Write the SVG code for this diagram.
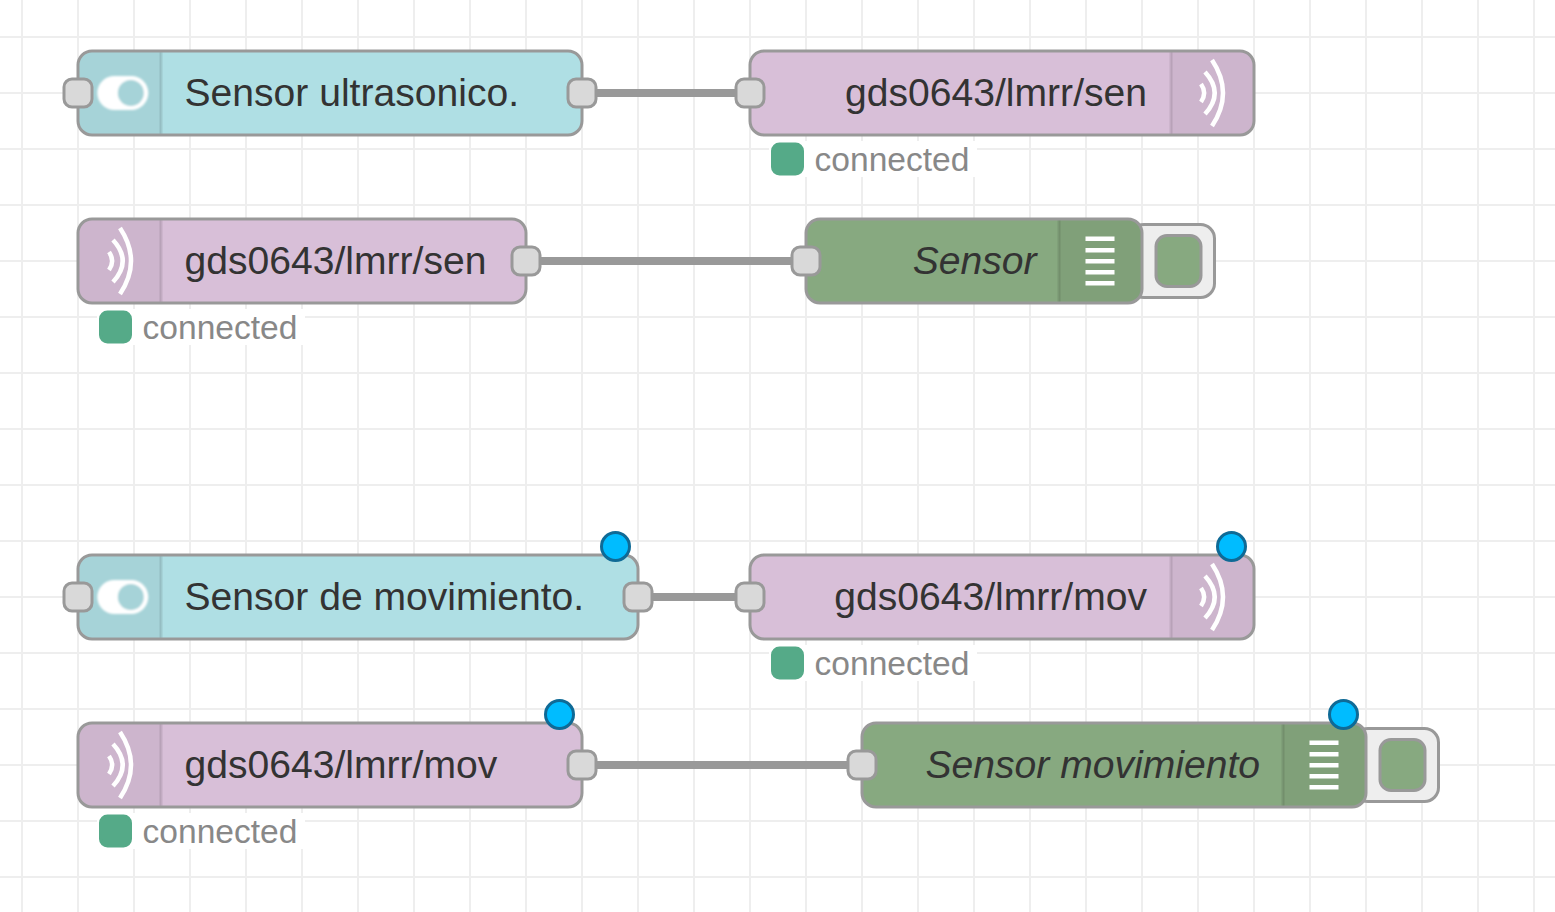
<svg xmlns="http://www.w3.org/2000/svg" width="1555" height="912" viewBox="0 0 1555 912">
<style>
text{font-family:"Liberation Sans",Arial,sans-serif}
.g{stroke:#eee;stroke-width:2;fill:none}
.w{stroke:#999;stroke-width:8;fill:none}
.n{stroke:#999;stroke-width:3}
.inj{fill:#afdfe4}.mq{fill:#d8bfd8}.dbg{fill:#87a980}
.ic{fill:#000;fill-opacity:.05}
.d{stroke:#000;stroke-opacity:.1;stroke-width:3}
.p{fill:#d9d9d9;stroke:#999;stroke-width:3}
.l{font-size:39.1px;fill:#333}
.s{font-size:33.6px;fill:#888}
.sd{fill:#5a8;stroke:#5a8;stroke-width:3}
.h{fill:#fff}
.c{fill:#00bcff;stroke:#0f6a96;stroke-width:3}
.a{fill:none;stroke:#fff;stroke-width:4.500}
.b{fill:#fff}
</style>
<defs>
<filter id="soft" x="-10%" y="-10%" width="120%" height="120%"><feGaussianBlur stdDeviation="0.9"/></filter>
<g id="wifi" class="a"><path d="M-8-9Q-1.700 0-8 9"/><path d="M-4-21Q15.400 0-4 21"/><path d="M3-33Q25 0 3 33"/></g>
<g id="tog" filter="url(#soft)"><rect x="-25.500" y="-17" width="51" height="34" rx="17" fill="#fff"/><circle cx="8" cy="0" r="13" fill="#a6d3d8"/></g>
<g id="lines"><rect x="-14.500" y="-24.500" width="29" height="4.500" class="b"/><rect x="-14.500" y="-13" width="29" height="4.500" class="b"/><rect x="-14.500" y="-2" width="29" height="4.500" class="b"/><rect x="-14.500" y="9" width="29" height="4.500" class="b"/><rect x="-14.500" y="20" width="29" height="4.500" class="b"/></g>
</defs>
<rect width="1555" height="912" fill="#fff"/>
<g id="grid">
<path class="g" d="M22 0V912M78 0V912M134 0V912M190 0V912M246 0V912M302 0V912M358 0V912M414 0V912M470 0V912M526 0V912M582 0V912M638 0V912M694 0V912M750 0V912M806 0V912M862 0V912M918 0V912M974 0V912M1030 0V912M1086 0V912M1142 0V912M1198 0V912M1254 0V912M1310 0V912M1366 0V912M1422 0V912M1478 0V912M1534 0V912"/>
<path class="g" d="M0 37H1555M0 93H1555M0 149H1555M0 205H1555M0 261H1555M0 317H1555M0 373H1555M0 429H1555M0 485H1555M0 541H1555M0 597H1555M0 653H1555M0 709H1555M0 765H1555M0 821H1555M0 877H1555"/>
</g>
<g id="connectors">
<path class="w" d="M582 93H750"/>
<path class="w" d="M526 261H806"/>
<path class="w" d="M638 597H750"/>
<path class="w" d="M582 765H862"/>
</g>
<g id="n1">
<rect class="n inj" x="78" y="51" width="504" height="84" rx="14"/>
<path class="ic" d="M92 52.500H161V133.500H92A12.500 12.500 0 0 1 79.500 121V65A12.500 12.500 0 0 1 92 52.500Z"/>
<path class="d" d="M161 52.500V133.500"/>
<use href="#tog" x="122.800" y="93"/>
<rect class="p" x="64" y="79" width="28" height="28" rx="8"/>
<rect class="p" x="568" y="79" width="28" height="28" rx="8"/>
<text class="l" x="184.500" y="105.500">Sensor ultrasonico.</text>
</g>
<g id="n2">
<rect class="n mq" x="750" y="51" width="504" height="84" rx="14"/>
<path class="ic" d="M1171 52.500H1240A12.500 12.500 0 0 1 1252.500 65V121A12.500 12.500 0 0 1 1240 133.500H1171Z"/>
<path class="d" d="M1171 52.500V133.500"/>
<use href="#wifi" x="1209" y="93"/>
<rect class="p" x="736" y="79" width="28" height="28" rx="8"/>
<text class="l" x="1147" y="105.500" text-anchor="end">gds0643/lmrr/sen</text>
<rect class="h" x="769" y="141" width="208" height="36"/>
<rect class="sd" x="772.500" y="144" width="30" height="30" rx="7"/>
<text class="s" x="814.500" y="171">connected</text>
</g>
<g id="n3">
<rect class="n mq" x="78" y="219" width="448" height="84" rx="14"/>
<path class="ic" d="M92 220.500H161V301.500H92A12.500 12.500 0 0 1 79.500 289V233A12.500 12.500 0 0 1 92 220.500Z"/>
<path class="d" d="M161 220.500V301.500"/>
<use href="#wifi" x="117" y="261"/>
<rect class="p" x="512" y="247" width="28" height="28" rx="8"/>
<text class="l" x="184.500" y="273.500">gds0643/lmrr/sen</text>
<rect class="h" x="97" y="309" width="208" height="36"/>
<rect class="sd" x="100.500" y="312" width="30" height="30" rx="7"/>
<text class="s" x="142.500" y="339">connected</text>
</g>
<g id="n4">
<rect x="1130" y="224.500" width="84.500" height="73" rx="14" fill="#eee" stroke="#999" stroke-width="3"/>
<rect x="1156" y="235.500" width="45" height="51" rx="11" fill="#87a980" stroke="#999" stroke-width="3"/>
<rect class="n dbg" x="806" y="219" width="336" height="84" rx="14"/>
<path class="ic" d="M1059 220.500H1128A12.500 12.500 0 0 1 1140.500 233V289A12.500 12.500 0 0 1 1128 301.500H1059Z"/>
<path class="d" d="M1059 220.500V301.500"/>
<use href="#lines" x="1100" y="261"/>
<rect class="p" x="792" y="247" width="28" height="28" rx="8"/>
<text class="l" x="1036.500" y="273.500" text-anchor="end" font-style="italic">Sensor</text>
</g>
<g id="n5">
<rect class="n inj" x="78" y="555" width="560" height="84" rx="14"/>
<path class="ic" d="M92 556.500H161V637.500H92A12.500 12.500 0 0 1 79.500 625V569A12.500 12.500 0 0 1 92 556.500Z"/>
<path class="d" d="M161 556.500V637.500"/>
<use href="#tog" x="122.800" y="597"/>
<rect class="p" x="64" y="583" width="28" height="28" rx="8"/>
<rect class="p" x="624" y="583" width="28" height="28" rx="8"/>
<text class="l" x="184.500" y="609.500">Sensor de movimiento.</text>
<circle class="c" cx="615.500" cy="546.500" r="14"/>
</g>
<g id="n6">
<rect class="n mq" x="750" y="555" width="504" height="84" rx="14"/>
<path class="ic" d="M1171 556.500H1240A12.500 12.500 0 0 1 1252.500 569V625A12.500 12.500 0 0 1 1240 637.500H1171Z"/>
<path class="d" d="M1171 556.500V637.500"/>
<use href="#wifi" x="1209" y="597"/>
<rect class="p" x="736" y="583" width="28" height="28" rx="8"/>
<text class="l" x="1147" y="609.500" text-anchor="end">gds0643/lmrr/mov</text>
<rect class="h" x="769" y="645" width="208" height="36"/>
<rect class="sd" x="772.500" y="648" width="30" height="30" rx="7"/>
<text class="s" x="814.500" y="675">connected</text>
<circle class="c" cx="1231.500" cy="546.500" r="14"/>
</g>
<g id="n7">
<rect class="n mq" x="78" y="723" width="504" height="84" rx="14"/>
<path class="ic" d="M92 724.500H161V805.500H92A12.500 12.500 0 0 1 79.500 793V737A12.500 12.500 0 0 1 92 724.500Z"/>
<path class="d" d="M161 724.500V805.500"/>
<use href="#wifi" x="117" y="765"/>
<rect class="p" x="568" y="751" width="28" height="28" rx="8"/>
<text class="l" x="184.500" y="777.500">gds0643/lmrr/mov</text>
<rect class="h" x="97" y="813" width="208" height="36"/>
<rect class="sd" x="100.500" y="816" width="30" height="30" rx="7"/>
<text class="s" x="142.500" y="843">connected</text>
<circle class="c" cx="559.500" cy="714.500" r="14"/>
</g>
<g id="n8">
<rect x="1354" y="728.500" width="84.500" height="73" rx="14" fill="#eee" stroke="#999" stroke-width="3"/>
<rect x="1380" y="739.500" width="45" height="51" rx="11" fill="#87a980" stroke="#999" stroke-width="3"/>
<rect class="n dbg" x="862" y="723" width="504" height="84" rx="14"/>
<path class="ic" d="M1283 724.500H1352A12.500 12.500 0 0 1 1364.500 737V793A12.500 12.500 0 0 1 1352 805.500H1283Z"/>
<path class="d" d="M1283 724.500V805.500"/>
<use href="#lines" x="1324" y="765"/>
<rect class="p" x="848" y="751" width="28" height="28" rx="8"/>
<text class="l" x="1260" y="777.500" text-anchor="end" font-style="italic">Sensor movimiento</text>
<circle class="c" cx="1343.500" cy="714.500" r="14"/>
</g>
</svg>
